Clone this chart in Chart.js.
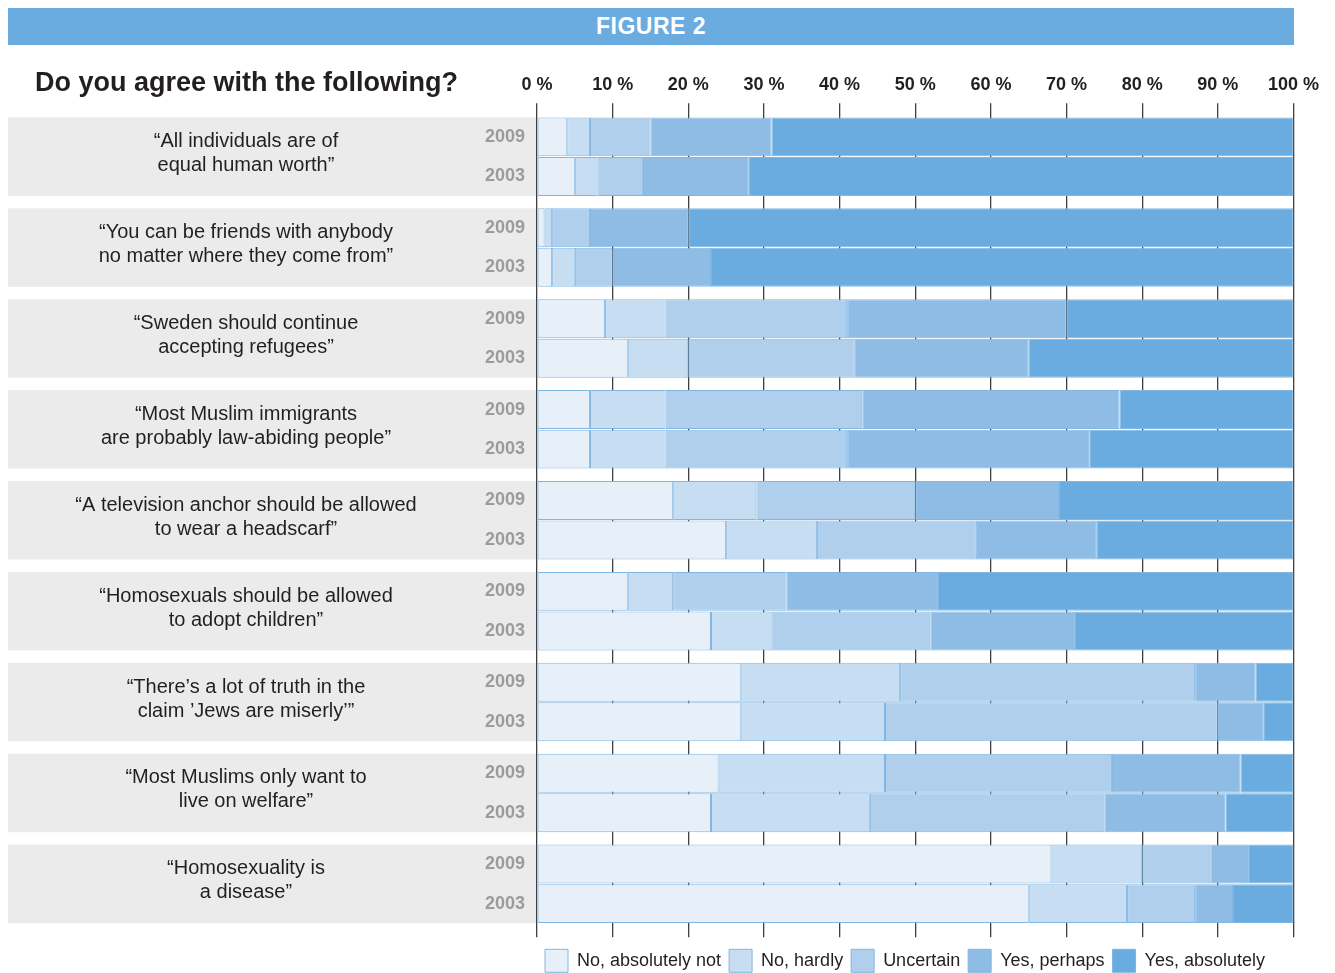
<!DOCTYPE html>
<html>
<head>
<meta charset="utf-8">
<script src="https://cdn.jsdelivr.net/npm/chart.js@4.4.1/dist/chart.umd.min.js"></script>
<style>
  html, body { margin: 0; padding: 0; background: #fff; }
  body { width: 1335px; height: 973px; position: relative; overflow: hidden; font-family: "Liberation Sans", Arial, sans-serif; }
  #wrap { position: absolute; left: 0; top: 0; width: 1335px; height: 973px; }
  #bar { position: absolute; left: 8px; top: 8px; width: 1286px; height: 37px; background: #6aacdf; color: #fff;
         font-weight: bold; font-size: 23px; text-align: center; line-height: 37px; letter-spacing: 0.5px; }
  #heading { position: absolute; left: 35px; top: 67px; font-size: 27px; line-height: 30px; font-weight: bold; color: #231f20; }
</style>
</head>
<body>
<div id="wrap"><canvas id="chart"></canvas></div>
<div id="bar">FIGURE 2</div>
<div id="heading">Do you agree with the following?</div>
<script>
const statements = [
    ['\u201cAll individuals are of', 'equal human worth\u201d'],
    ['\u201cYou can be friends with anybody', 'no matter where they come from\u201d'],
    ['\u201cSweden should continue', 'accepting refugees\u201d'],
    ['\u201cMost Muslim immigrants', 'are probably law-abiding people\u201d'],
    ['\u201cA television anchor should be allowed', 'to wear a headscarf\u201d'],
    ['\u201cHomosexuals should be allowed', 'to adopt children\u201d'],
    ['\u201cThere\u2019s a lot of truth in the', 'claim \u2019Jews are miserly\u2019\u201d'],
    ['\u201cMost Muslims only want to', 'live on welfare\u201d'],
    ['\u201cHomosexuality is', 'a disease\u201d']
];
const years = ['2009', '2003'];
const answers = ['No, absolutely not', 'No, hardly', 'Uncertain', 'Yes, perhaps', 'Yes, absolutely'];

// share of answers in %, 2009
const noAbsolutely2009 = [4, 1, 9, 7, 18, 12, 27, 24, 68];
const noHardly2009     = [3, 1, 8, 10, 11, 6, 21, 22, 12];
const uncertain2009    = [8, 5, 24, 26, 21, 15, 39, 30, 9];
const yesPerhaps2009   = [16, 13, 29, 34, 19, 20, 8, 17, 5];
const yesAbsolutely2009 = [69, 80, 30, 23, 31, 47, 5, 7, 6];

// share of answers in %, 2003
const noAbsolutely2003 = [5, 2, 12, 7, 25, 23, 27, 23, 65];
const noHardly2003     = [3, 3, 8, 10, 12, 8, 19, 21, 13];
const uncertain2003    = [6, 5, 22, 24, 21, 21, 44, 31, 9];
const yesPerhaps2003   = [14, 13, 23, 32, 16, 19, 6, 16, 5];
const yesAbsolutely2003 = [72, 77, 35, 27, 26, 29, 4, 9, 8];

const tickValues = [0, 10, 20, 30, 40, 50, 60, 70, 80, 90, 100];

const FONT = '"Liberation Sans", Arial, sans-serif';
const colors = ['#e7eff9', '#c6ddf2', '#b0cfec', '#8fbce5', '#6aacdf'];
const edge = '#80b6e2';

const byYear = [
    [noAbsolutely2009, noHardly2009, uncertain2009, yesPerhaps2009, yesAbsolutely2009],
    [noAbsolutely2003, noHardly2003, uncertain2003, yesPerhaps2003, yesAbsolutely2003]
];

const datasets = [];
byYear.forEach((series, k) => {
    series.forEach((vals, i) => {
        datasets.push({
            label: answers[i],
            data: vals,
            stack: years[k],
            backgroundColor: colors[i],
            borderColor: edge,
            borderWidth: 1,
            borderSkipped: false,
            categoryPercentage: 0.87,
            barPercentage: 0.985
        });
    });
});

// grey boxes with the statements, and the year labels
const panels = {
    id: 'panels',
    beforeDraw(chart) {
        const ctx = chart.ctx;
        const first = chart.getDatasetMeta(0).data;
        const last = chart.getDatasetMeta(5).data;
        const yScale = chart.scales.y;
        ctx.save();
        statements.forEach((lines, j) => {
            const y0 = first[j].y - first[j].height / 2;
            const y1 = last[j].y + last[j].height / 2;
            ctx.fillStyle = '#ebebec';
            ctx.fillRect(8, y0, chart.chartArea.left - 8, y1 - y0);
            ctx.fillStyle = '#231f20';
            ctx.font = '20px ' + FONT;
            ctx.textAlign = 'center';
            ctx.textBaseline = 'middle';
            const mid = yScale.getPixelForValue(j) - 3;
            lines.forEach((t, n) => {
                ctx.fillText(t, 246, mid + (n - (lines.length - 1) / 2) * 24);
            });
        });
        ctx.restore();
    },
    afterDraw(chart) {
        const ctx = chart.ctx;
        ctx.save();
        ctx.fillStyle = '#9b9b9b';
        ctx.font = 'bold 18px ' + FONT;
        ctx.textAlign = 'right';
        ctx.textBaseline = 'middle';
        years.forEach((yr, k) => {
            const meta = chart.getDatasetMeta(k * 5);
            meta.data.forEach(bar => {
                ctx.fillText(yr, chart.chartArea.left - 12, bar.y);
            });
        });
        ctx.restore();
    }
};

const ctx = document.getElementById('chart').getContext('2d');
const myChart = new Chart(ctx, {
    type: 'bar',
    data: {
        labels: statements,
        datasets: datasets
    },
    plugins: [panels],
    options: {
        indexAxis: 'y',
        responsive: true,
        maintainAspectRatio: false,
        animation: false,
        layout: {
            padding: { top: 67.6, right: 41.5, bottom: -9.3, left: 0 }
        },
        scales: {
            x: {
                position: 'top',
                stacked: true,
                min: 0,
                max: 100,
                afterBuildTicks: scale => { scale.ticks = tickValues.map(v => ({ value: v })); },
                ticks: {
                    callback: v => v + ' %',
                    font: { family: FONT, size: 18, weight: 'bold' },
                    color: '#231f20',
                    padding: 7,
                    maxRotation: 0
                },
                grid: { color: '#3f3f3f', lineWidth: 1.3, tickLength: 8 },
                border: { display: false }
            },
            x2: {
                type: 'linear',
                position: 'bottom',
                min: 0,
                max: 100,
                afterBuildTicks: scale => { scale.ticks = tickValues.map(v => ({ value: v })); },
                afterFit: scale => { scale.height = 12; },
                ticks: { display: false },
                grid: { color: '#3f3f3f', lineWidth: 1.3, tickLength: 8, drawOnChartArea: false },
                border: { display: false }
            },
            y: {
                stacked: true,
                afterFit: scale => { scale.width = 537; },
                ticks: { display: false },
                grid: { display: false },
                border: { display: false }
            }
        },
        plugins: {
            title: { display: false },
            tooltip: { enabled: false },
            legend: {
                position: 'bottom',
                fullSize: false,
                align: 'start',
                labels: {
                    filter: item => item.datasetIndex < 5,
                    boxWidth: 23,
                    boxHeight: 23,
                    padding: 8,
                    color: '#231f20',
                    font: { family: FONT, size: 18 }
                }
            }
        }
    }
});
</script>
</body>
</html>
